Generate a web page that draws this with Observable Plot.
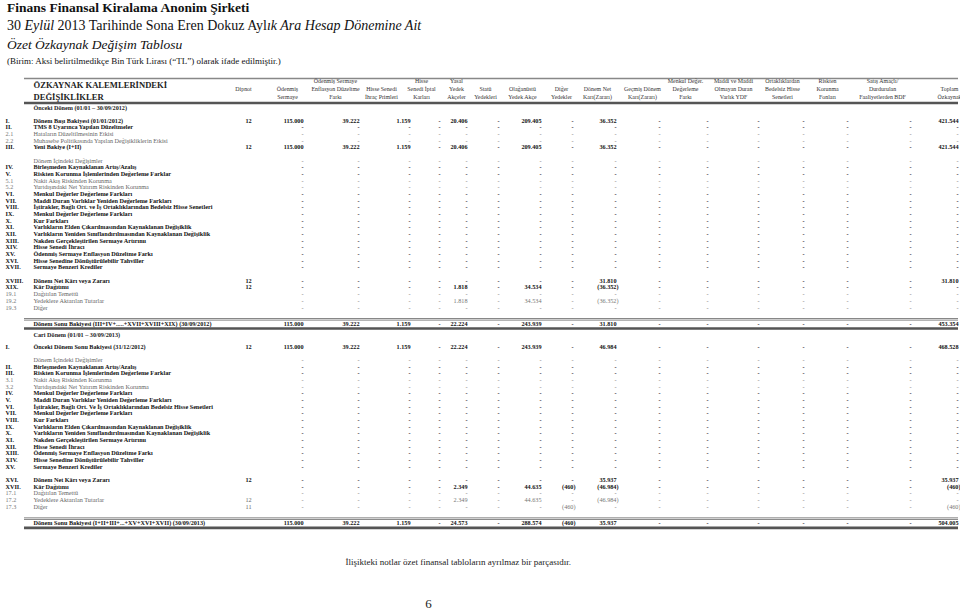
<!DOCTYPE html>
<html><head><meta charset="utf-8">
<script src="https://cdn.jsdelivr.net/npm/d3@7"></script>
<script src="https://cdn.jsdelivr.net/npm/@observablehq/plot@0.6"></script>
<style>
body{margin:0;background:#fff;font-family:"Liberation Serif",serif;color:#111;}
#head{height:72px;padding-left:7px;box-sizing:border-box;overflow:hidden}
#head div{white-space:nowrap}
.t1{font-weight:bold;font-size:13.5px;line-height:16px}
.t2{font-size:14px;line-height:20px}
.t3{font-size:13.5px;line-height:18px;font-style:italic}
.t4{font-size:9px;line-height:14px}
#chart svg{display:block}
</style></head><body>
<div id="head">
<div class="t1">Finans Finansal Kiralama Anonim Şirketi</div>
<div class="t2">30 <i>Eylül</i> 2013 Tarihinde Sona Eren Dokuz Ayl<i>ık Ara Hesap Dönemine Ait</i></div>
<div class="t3">Özet Özkaynak Değişim Tablosu</div>
<div class="t4">(Birim: Aksi belirtilmedikçe Bin Türk Lirası (“TL”) olarak ifade edilmiştir.)</div>
</div>
<div id="chart"></div>
<script>
// ---------- DATA ----------
const headerTitle = ["ÖZKAYNAK KALEMLERİNDEKİ", "DEĞİŞİKLİKLER"];
const columnHeaders = [
  ["", "Dipnot", ""],
  ["", "Ödenmiş", "Sermaye"],
  ["Ödenmiş Sermaye", "Enflasyon Düzeltme", "Farkı"],
  ["", "Hisse Senedi", "İhraç Primleri"],
  ["Hisse", "Senedi İptal", "Karları"],
  ["Yasal", "Yedek", "Akçeler"],
  ["", "Statü", "Yedekleri"],
  ["", "Olağanüstü", "Yedek Akçe"],
  ["", "Diğer", "Yedekler"],
  ["", "Dönem Net", "Karı(Zararı)"],
  ["", "Geçmiş Dönem", "Karı(Zararı)"],
  ["Menkul Değer.", "Değerleme", "Farkı"],
  ["Maddi ve Maddi", "Olmayan Duran", "Varlık YDF"],
  ["Ortaklıklardan", "Bedelsiz Hisse", "Senetleri"],
  ["Riskten", "Korunma", "Fonları"],
  ["Satış Amaçlı/", "Durdurulan", "Faaliyetlerden BDF"],
  ["", "Toplam", "Özkaynak"]
];

// value rows (16 columns: Ödenmiş Sermaye ... Toplam Özkaynak); 0 is shown as "-"
const Z = [0,0,0,0,0,0,0,0,0,0,0,0,0,0,0,0];
const prevOpening      = [115000,39222,1159,0,20406,0,209405,0,36352,0,0,0,0,0,0,421544];
const prevNetProfit    = [0,0,0,0,0,0,0,0,31810,0,0,0,0,0,0,31810];
const prevDistribution = [0,0,0,0,1818,0,34534,0,-36352,0,0,0,0,0,0,0];
const prevClosing      = [115000,39222,1159,0,22224,0,243939,0,31810,0,0,0,0,0,0,453354];
const curOpening       = [115000,39222,1159,0,22224,0,243939,0,46984,0,0,0,0,0,0,468528];
const curNetProfit     = [0,0,0,0,0,0,0,0,35937,0,0,0,0,0,0,35937];
const curDistribution  = [0,0,0,0,2349,0,44635,-460,-46984,0,0,0,0,0,0,-460];
const curToReserves    = [0,0,0,0,2349,0,44635,0,-46984,0,0,0,0,0,0,0];
const curOther         = [0,0,0,0,0,0,0,-460,0,0,0,0,0,0,0,-460];
const curClosing       = [115000,39222,1159,0,24573,0,288574,-460,35937,0,0,0,0,0,0,504005];

const prevSection = "Önceki Dönem (01/01 – 30/09/2012)";
const prevNo = ["I.","II.","2.1","2.2","III.",null,"","IV.","V.","5.1","5.2","VI.","VII.","VIII.","IX.","X.","XI.","XII.","XIII.","XIV.","XV.","XVI.","XVII.",null,"XVIII.","XIX.","19.1","19.2","19.3"];
const prevLabel = ["Dönem Başı Bakiyesi (01/01/2012)","TMS 8 Uyarınca Yapılan Düzeltmeler","Hataların Düzeltilmesinin Etkisi","Muhasebe Politikasında Yapılan Değişikliklerin Etkisi","Yeni Bakiye (I+II)",null,
  "Dönem İçindeki Değişimler","Birleşmeden Kaynaklanan Artış/Azalış","Riskten Korunma İşlemlerinden Değerleme Farklar","Nakit Akış Riskinden Korunma","Yurtdışındaki Net Yatırım Riskinden Korunma",
  "Menkul Değerler Değerleme Farkları","Maddi Duran Varlıklar Yeniden Değerleme Farkları","İştirakler, Bağlı Ort. ve İş Ortaklıklarından Bedelsiz Hisse Senetleri","Menkul Değerler Değerleme Farkları","Kur Farkları",
  "Varlıkların Elden Çıkarılmasından Kaynaklanan Değişiklik","Varlıkların Yeniden Sınıflandırılmasından Kaynaklanan Değişiklik","Nakden Gerçekleştirilen Sermaye Artırımı","Hisse Senedi İhracı","Ödenmiş Sermaye Enflasyon Düzeltme Farkı",
  "Hisse Senedine Dönüştürülebilir Tahviller","Sermaye Benzeri Krediler",null,"Dönem Net Kârı veya Zararı","Kâr Dağıtımı","Dağıtılan Temettü","Yedeklere Aktarılan Tutarlar","Diğer"];
const prevNote = ["12","","","","12",null,"","","","","","","","","","","","","","","","","",null,"12","12","","",""];
const prevKind = ["b","b","s","s","b",null,"s","b","b","s","s","b","b","b","b","b","b","b","b","b","b","b","b",null,"b","b","s","s","s"];
const prevVals = [prevOpening,Z,Z,Z,prevOpening,null,Z,Z,Z,Z,Z,Z,Z,Z,Z,Z,Z,Z,Z,Z,Z,Z,Z,null,prevNetProfit,prevDistribution,Z,prevDistribution,Z];
const prevTotalLabel = "Dönem Sonu Bakiyesi (III+IV+.....+XVII+XVIII+XIX) (30/09/2012)";

const curSection = "Cari Dönem (01/01 – 30/09/2013)";
const curNo = ["I.",null,"","II.","III.","3.1","3.2","IV.","V.","VI.","VII.","VIII.","IX.","X.","XI.","XII.","XIII.","XIV.","XV.",null,"XVI.","XVII.","17.1","17.2","17.3"];
const curLabel = ["Önceki Dönem Sonu Bakiyesi (31/12/2012)",null,"Dönem İçindeki Değişimler","Birleşmeden Kaynaklanan Artış/Azalış","Riskten Korunma İşlemlerinden Değerleme Farklar","Nakit Akış Riskinden Korunma","Yurtdışındaki Net Yatırım Riskinden Korunma",
  "Menkul Değerler Değerleme Farkları","Maddi Duran Varlıklar Yeniden Değerleme Farkları","İştirakler, Bağlı Ort. Ve İş Ortaklıklarından Bedelsiz Hisse Senetleri","Menkul Değerler Değerleme Farkları","Kur Farkları",
  "Varlıkların Elden Çıkarılmasından Kaynaklanan Değişiklik","Varlıkların Yeniden Sınıflandırılmasından Kaynaklanan Değişiklik","Nakden Gerçekleştirilen Sermaye Artırımı","Hisse Senedi İhracı","Ödenmiş Sermaye Enflasyon Düzeltme Farkı",
  "Hisse Senedine Dönüştürülebilir Tahviller","Sermaye Benzeri Krediler",null,"Dönem Net Kârı veya Zararı","Kâr Dağıtımı","Dağıtılan Temettü","Yedeklere Aktarılan Tutarlar","Diğer"];
const curNote = ["12",null,"","","","","","","","","","","","","","","","","",null,"12","","","12","11"];
const curKind = ["b",null,"s","b","b","s","s","b","b","b","b","b","b","b","b","b","b","b","b",null,"b","b","s","s","s"];
const curVals = [curOpening,null,Z,Z,Z,Z,Z,Z,Z,Z,Z,Z,Z,Z,Z,Z,Z,Z,Z,null,curNetProfit,curDistribution,Z,curToReserves,curOther];
const curTotalLabel = "Dönem Sonu Bakiyesi (I+II+III+...+XV+XVI+XVII) (30/09/2013)";

const footnote = "İlişikteki notlar özet finansal tabloların ayrılmaz bir parçasıdır.";
const pageNumber = "6";

// ---------- LAYOUT (page pixel coordinates) ----------
const colCenter = [243, 287, 335, 381, 421, 456, 485, 522, 561, 597, 642, 685, 733, 782, 827, 882, 949];
const colRight  = [248, 303, 359, 410, 440, 467, 499, 541, 573, 616, 660, 708, 759, 804, 848, 911, 958];
const headLineY = [81, 89, 97];
const ROW = 6.672;
const xNo = 5, xLabel = 33, ruleX1 = 24, ruleX2 = 958;

const intFmt = d3.formatLocale({decimal: ",", thousands: ".", grouping: [3], currency: ["", ""]}).format(",d");
const fmt = v => v === 0 ? "-" : v < 0 ? `(${intFmt(-v)})` : intFmt(v);

const rows = [], sections = [], rules = [];
function addPeriod(startY, section, nos, labels, notes, kinds, vals, totalLabel, totalVals) {
  let y = startY;
  sections.push({y, text: section});
  y += 12.2;
  let last = y;
  labels.forEach((lab, i) => {
    if (lab !== null) { rows.push({y, no: nos[i], label: lab, note: notes[i], kind: kinds[i], vals: vals[i]}); last = y; }
    y += ROW;
  });
  const ty = last + 16;
  rows.push({y: ty, no: "", label: totalLabel, note: "", kind: "t", vals: totalVals});
  rules.push({y: ty - 5, w: 0.9, c: "#777"}, {y: ty - 3.4, w: 0.9, c: "#777"}, {y: ty + 5, w: 2.6, c: "#555"});
  return ty;
}
const t1 = addPeriod(108, prevSection, prevNo, prevLabel, prevNote, prevKind, prevVals, prevTotalLabel, prevClosing);
addPeriod(t1 + 11, curSection, curNo, curLabel, curNote, curKind, curVals, curTotalLabel, curClosing);
rules.push({y: 78, w: 1.4, c: "#888"}, {y: 102.5, w: 2.4, c: "#555"});

const cells = [];
rows.forEach(r => r.vals.forEach((v, j) => cells.push({x: colRight[j + 1], y: r.y, text: fmt(v), neg: v < 0, sub: r.kind === "s"})));
const headCells = [];
columnHeaders.forEach((lines, j) => lines.forEach((t, k) => { if (t) headCells.push({x: colCenter[j], y: headLineY[k], text: t}); }));

const bold = r => r.kind !== "s";
const font = {fontFamily: "Liberation Serif", fontSize: 6.2};

const plot = Plot.plot({
  width: 960, height: 537, margin: 0,
  x: {domain: [0, 960], range: [0, 960], axis: null},
  y: {domain: [72, 609], range: [0, 537], axis: null},
  style: {fontFamily: "Liberation Serif", background: "white", color: "#111"},
  marks: [
    Plot.ruleY(rules, {y: "y", x1: ruleX1, x2: ruleX2, stroke: d => d.c, strokeWidth: d => d.w}),
    // big header
    Plot.text(headerTitle, {x: xLabel, y: (d, i) => [85, 96.5][i], text: d => d, textAnchor: "start", fontWeight: "bold", fontSize: 8.6, fontFamily: "Liberation Serif", fill: "#222"}),
    Plot.text(headCells, {x: "x", y: "y", text: "text", textAnchor: "middle", ...font, fontSize: 5.9, fill: "#333"}),
    // section headings
    Plot.text(sections, {x: xLabel, y: "y", text: "text", textAnchor: "start", ...font, fontWeight: "bold", fill: "#222"}),
    // row numbers & labels
    Plot.text(rows.filter(bold), {x: xNo, y: "y", text: "no", textAnchor: "start", ...font, fontWeight: "bold", fill: "#111"}),
    Plot.text(rows.filter(r => !bold(r)), {x: xNo, y: "y", text: "no", textAnchor: "start", ...font, fill: "#777"}),
    Plot.text(rows.filter(bold), {x: xLabel, y: "y", text: "label", textAnchor: "start", ...font, fontWeight: "bold", fill: "#111"}),
    Plot.text(rows.filter(r => !bold(r)), {x: xLabel, y: "y", text: "label", textAnchor: "start", ...font, fill: "#666"}),
    // notes
    Plot.text(rows.filter(bold), {x: colCenter[0] + 5, y: "y", text: "note", textAnchor: "middle", ...font, fontWeight: "bold", fill: "#111"}),
    Plot.text(rows.filter(r => !bold(r)), {x: colCenter[0] + 5, y: "y", text: "note", textAnchor: "middle", ...font, fill: "#666"}),
    // values (parenthesised negatives overhang the column edge slightly)
    Plot.text(cells.filter(c => !c.sub && !c.neg), {x: "x", y: "y", text: "text", textAnchor: "end", ...font, fontWeight: "bold", fill: "#111"}),
    Plot.text(cells.filter(c => !c.sub && c.neg), {x: "x", y: "y", text: "text", textAnchor: "end", dx: 2, ...font, fontWeight: "bold", fill: "#111"}),
    Plot.text(cells.filter(c => c.sub && !c.neg), {x: "x", y: "y", text: "text", textAnchor: "end", ...font, fill: "#777"}),
    Plot.text(cells.filter(c => c.sub && c.neg), {x: "x", y: "y", text: "text", textAnchor: "end", dx: 2, ...font, fill: "#777"}),
    // footer
    Plot.text([footnote], {x: 345, y: 562, text: d => d, textAnchor: "start", fontFamily: "Liberation Serif", fontSize: 9, fill: "#222"}),
    Plot.text([pageNumber], {x: 428, y: 603, text: d => d, textAnchor: "middle", fontFamily: "Liberation Serif", fontSize: 13, fill: "#222"})
  ]
});
document.getElementById("chart").append(plot);
</script>
</body></html>
